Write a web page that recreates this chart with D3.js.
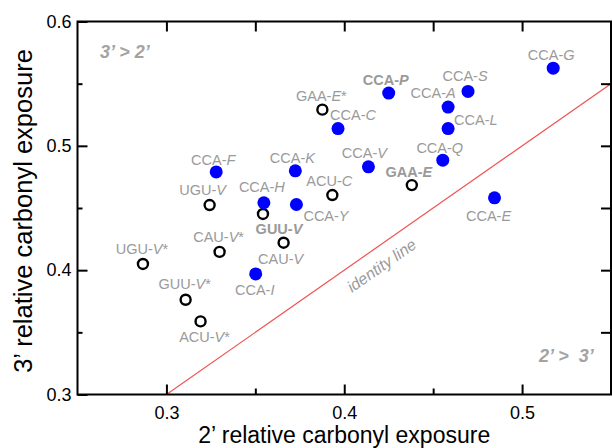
<!DOCTYPE html>
<html>
<head>
<meta charset="utf-8">
<script src="https://cdn.jsdelivr.net/npm/d3@7"></script>
<style>
  body { margin: 0; background: #fff; }
  svg { display: block; font-family: 'Liberation Sans', Arial, sans-serif; }
</style>
</head>
<body>
<svg id="chart"></svg>
<script>
// CCA substrates (filled blue)
const ccaNames = ['CCA-G', 'CCA-S', 'CCA-P', 'CCA-A', 'CCA-L', 'CCA-C', 'CCA-Q', 'CCA-V',
                  'CCA-F', 'CCA-K', 'CCA-E', 'CCA-H', 'CCA-Y', 'CCA-I']
const ccaX = [0.5175, 0.4696, 0.425, 0.4584, 0.4584, 0.3965, 0.4554, 0.4136,
              0.328, 0.3725, 0.4845, 0.3548, 0.3731, 0.3502]
const ccaY = [0.5625, 0.5438, 0.5424, 0.5312, 0.5139, 0.5139, 0.4885, 0.4831,
              0.479, 0.4799, 0.4582, 0.4542, 0.4528, 0.397]

// other substrates (open circles)
const otherNames = ['GAA-E*', 'GAA-E', 'ACU-C', 'UGU-V', 'GUU-V', 'CAU-V',
                    'UGU-V*', 'CAU-V*', 'GUU-V*', 'ACU-V*']
const otherX = [0.3877, 0.438, 0.3933, 0.3243, 0.3543, 0.3659, 0.2868, 0.3299, 0.3108, 0.3192]
const otherY = [0.5291, 0.4684, 0.4604, 0.4524, 0.4452, 0.4221, 0.405, 0.4147, 0.3762, 0.3588]

const boldLabels = ['CCA-P', 'GAA-E', 'GUU-V']

const xMajor = [0.3, 0.4, 0.5]
const xMinor = [0.35, 0.45]
const yMajor = [0.3, 0.4, 0.5, 0.6]
const yMinor = [0.35, 0.45, 0.55]

// label placement, [anchor, dx, dy] relative to the point (layout only)
const labelPos = {
  'CCA-G': ['middle', -2, -8], 'CCA-S': ['middle', -3, -10], 'CCA-P': ['middle', -3, -8],
  'CCA-A': ['middle', -15, -9], 'CCA-L': ['start', 6, -4], 'CCA-C': ['middle', 15, -9],
  'CCA-Q': ['middle', -3, -7], 'CCA-V': ['middle', -4, -9], 'CCA-F': ['middle', -3, -7],
  'CCA-K': ['middle', -3, -8], 'CCA-E': ['middle', -6, 23], 'CCA-H': ['middle', -2, -11],
  'CCA-Y': ['start', 7, 16], 'CCA-I': ['middle', -1, 21],
  'GAA-E*': ['middle', -1, -9], 'GAA-E': ['middle', -3, -8], 'ACU-C': ['middle', -3, -9],
  'UGU-V': ['middle', -7, -10], 'GUU-V': ['middle', 16, 20], 'CAU-V': ['middle', -3, 21],
  'UGU-V*': ['middle', -1, -10], 'CAU-V*': ['middle', -1, -10], 'GUU-V*': ['middle', -1, -11],
  'ACU-V*': ['middle', 4, 21]
}

const w = 612
const h = 448
const padL = 77.5, padR = 611, padT = 21.5, padB = 394.5
const gray = '#9a9a9a'

const svg = d3.select('#chart').attr('width', w).attr('height', h)

const x = d3.scaleLinear().domain([0.25, 0.55]).range([padL, padR])
const y = d3.scaleLinear().domain([0.3, 0.6]).range([padB, padT])

svg.append('defs').append('clipPath').attr('id', 'clip')
  .append('rect').attr('x', padL).attr('y', padT)
  .attr('width', padR - padL).attr('height', padB - padT)

// identity line
svg.append('line')
  .attr('clip-path', 'url(#clip)')
  .attr('x1', x(0.3)).attr('y1', y(0.3))
  .attr('x2', x(0.55)).attr('y2', y(0.55))
  .attr('stroke', '#ef5252').attr('stroke-width', 1.2)

function styleAxis(g, size) {
  g.select('.domain').remove()
  g.selectAll('line').attr('stroke', '#000').attr('stroke-width', 2)
  g.selectAll('text').attr('fill', '#000').style('font-size', size + 'px')
    .style('font-family', "'Liberation Sans', Arial, sans-serif")
}

const bx = svg.append('g').attr('transform', 'translate(0,' + padB + ')')
bx.call(d3.axisBottom(x).tickValues(xMajor).tickSizeInner(-10).tickSizeOuter(0)
  .tickPadding(12).tickFormat(d3.format('.1f')))
styleAxis(bx, 18)
const bxm = svg.append('g').attr('transform', 'translate(0,' + padB + ')')
bxm.call(d3.axisBottom(x).tickValues(xMinor).tickSizeInner(-6).tickSizeOuter(0).tickFormat(''))
styleAxis(bxm, 18)

const ly = svg.append('g').attr('transform', 'translate(' + padL + ',0)')
ly.call(d3.axisLeft(y).tickValues(yMajor).tickSizeInner(-10).tickSizeOuter(0)
  .tickPadding(6).tickFormat(d3.format('.1f')))
styleAxis(ly, 18)
const lym = svg.append('g').attr('transform', 'translate(' + padL + ',0)')
lym.call(d3.axisLeft(y).tickValues(yMinor).tickSizeInner(-5).tickSizeOuter(0).tickFormat(''))
styleAxis(lym, 18)

const tx = svg.append('g').attr('transform', 'translate(0,' + padT + ')')
tx.call(d3.axisTop(x).tickValues(xMajor.concat(xMinor)).tickSizeInner(-10).tickSizeOuter(0).tickFormat(''))
styleAxis(tx, 18)

const ry = svg.append('g').attr('transform', 'translate(' + padR + ',0)')
ry.call(d3.axisRight(y).tickValues(yMajor.slice(1, 3).concat(yMinor)).tickSizeInner(-10).tickSizeOuter(0).tickFormat(''))
styleAxis(ry, 18)

// frame
svg.append('rect')
  .attr('x', padL).attr('y', padT)
  .attr('width', padR - padL).attr('height', padB - padT)
  .attr('fill', 'none').attr('stroke', '#000').attr('stroke-width', 2)

// axis titles
svg.append('text')
  .attr('x', (padL + padR) / 2).attr('y', 443)
  .attr('text-anchor', 'middle')
  .style('font-size', '23px')
  .text('2\u2019 relative carbonyl exposure')

svg.append('text')
  .attr('transform', 'translate(32,211) rotate(-90)')
  .attr('text-anchor', 'middle')
  .style('font-size', '25.5px')
  .text('3\u2019 relative carbonyl exposure')

// region notes
svg.append('text')
  .attr('x', 100).attr('y', 58)
  .attr('fill', '#a3a3a3').style('font-size', '18px')
  .style('font-weight', 'bold').style('font-style', 'italic')
  .text('3\u2019 > 2\u2019')

svg.append('text')
  .attr('x', 539).attr('y', 362)
  .attr('fill', '#a3a3a3').style('font-size', '18px')
  .style('font-weight', 'bold').style('font-style', 'italic')
  .style('white-space', 'pre')
  .text('2\u2019 >  3\u2019')

const angle = Math.atan2(y(0.55) - y(0.3), x(0.55) - x(0.3)) * 180 / Math.PI
svg.append('text')
  .attr('transform', 'translate(' + (x(0.425) - 4) + ',' + (y(0.425) + 31) + ') rotate(' + angle + ')')
  .attr('text-anchor', 'middle')
  .attr('fill', gray).style('font-size', '16px').style('font-style', 'italic')
  .text('identity line')

// points
const cca = ccaNames.map((n, i) => ({ name: n, x: ccaX[i], y: ccaY[i] }))
const other = otherNames.map((n, i) => ({ name: n, x: otherX[i], y: otherY[i] }))

svg.append('g').selectAll('circle')
  .data(other)
  .enter()
  .append('circle')
    .attr('cx', d => x(d.x))
    .attr('cy', d => y(d.y))
    .attr('r', 5)
    .attr('fill', '#fff')
    .attr('stroke', '#000')
    .attr('stroke-width', 2.4)

svg.append('g').selectAll('circle')
  .data(cca)
  .enter()
  .append('circle')
    .attr('cx', d => x(d.x))
    .attr('cy', d => y(d.y))
    .attr('r', 6.5)
    .attr('fill', '#0000ff')

// labels
const labels = svg.append('g').selectAll('text')
  .data(cca.concat(other))
  .enter()
  .append('text')
    .attr('x', d => x(d.x) + labelPos[d.name][1])
    .attr('y', d => y(d.y) + labelPos[d.name][2])
    .attr('text-anchor', d => labelPos[d.name][0])
    .attr('fill', gray)
    .style('font-size', '14.5px')
    .style('font-weight', d => boldLabels.includes(d.name) ? 'bold' : 'normal')

labels.each(function (d) {
  const t = d3.select(this)
  const m = d.name.match(/^(.*-)(.)(\*?)$/)
  t.append('tspan').text(m[1])
  t.append('tspan').style('font-style', 'italic').text(m[2])
  if (m[3]) t.append('tspan').text(m[3])
})
</script>
</body>
</html>
